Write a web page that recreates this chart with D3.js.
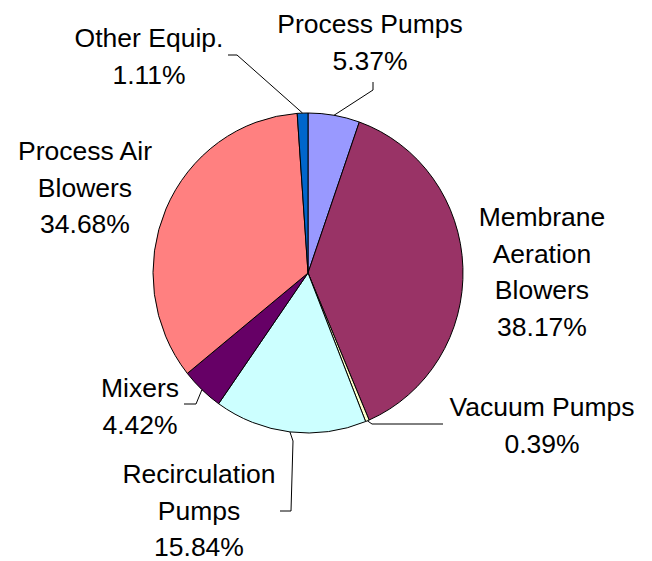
<!DOCTYPE html>
<html>
<head>
<meta charset="utf-8">
<script src="https://cdn.jsdelivr.net/npm/d3@7"></script>
<style>
  body { margin: 0; background: #fff; }
  text { font-family: "Liberation Sans", Arial, sans-serif; font-size: 26.5px; fill: #000; }
</style>
</head>
<body>
<script>
// slices, clockwise from 12 o'clock
const categories = ["Process Pumps", "Membrane Aeration Blowers", "Vacuum Pumps",
  "Recirculation Pumps", "Mixers", "Process Air Blowers", "Other Equip."];
const shares = [5.37, 38.17, 0.39, 15.84, 4.42, 34.68, 1.11];
const colors = ["#9999FF", "#993366", "#FFFFCC", "#CCFFFF", "#660066", "#FF8080", "#0066CC"];
// label text lines (last line is the percentage)
const labelLines = [
  ["Process Pumps"],
  ["Membrane", "Aeration", "Blowers"],
  ["Vacuum Pumps"],
  ["Recirculation", "Pumps"],
  ["Mixers"],
  ["Process Air", "Blowers"],
  ["Other Equip."]
];

const width = 652, height = 561;
const cx = 308, cy = 273, r = 155, sy = 160 / 155;

// label layout: center x, first baseline, leader elbow points
const layout = [
  {x: 370, y: 33,  leader: [[373, 90], [373, 82]]},
  {x: 542, y: 226, leader: null},
  {x: 542, y: 416, leader: [[372, 424], [443, 424]]},
  {x: 199, y: 483, leader: [[293, 441], [291, 511], [280, 511]]},
  {x: 140, y: 397, leader: [[196, 404], [184, 404]]},
  {x: 85,  y: 160, leader: null},
  {x: 149, y: 47,  leader: [[237, 55], [228, 55]]}
];
const lineGap = 36.5;

const svg = d3.select("body").append("svg")
  .attr("width", width).attr("height", height);

const pie = d3.pie().sort(null).value(d => d);
const arcs = pie(shares);
const arc = d3.arc().innerRadius(0).outerRadius(r);

svg.append("g")
  .attr("transform", `translate(${cx},${cy}) scale(1,${sy})`)
  .selectAll("path")
  .data(arcs)
  .join("path")
  .attr("d", arc)
  .attr("fill", (d, i) => colors[i])
  .attr("stroke", "#000")
  .attr("stroke-width", 1)
  .attr("vector-effect", "non-scaling-stroke");

// leader lines start on the pie edge at the slice's mid angle
const line = d3.line();
arcs.forEach((d, i) => {
  const lay = layout[i];
  if (!lay.leader) return;
  const a = (d.startAngle + d.endAngle) / 2;
  const start = [cx + r * Math.sin(a), cy - r * sy * Math.cos(a)];
  svg.append("path")
    .attr("d", line([start, ...lay.leader]))
    .attr("fill", "none")
    .attr("stroke", "#000")
    .attr("stroke-width", 1);
});

arcs.forEach((d, i) => {
  const lay = layout[i];
  const lines = labelLines[i].concat([d3.format(".2f")(shares[i]) + "%"]);
  const t = svg.append("text").attr("text-anchor", "middle");
  lines.forEach((s, k) => {
    t.append("tspan").attr("x", lay.x).attr("y", lay.y + k * lineGap).text(s);
  });
});
</script>
</body>
</html>
